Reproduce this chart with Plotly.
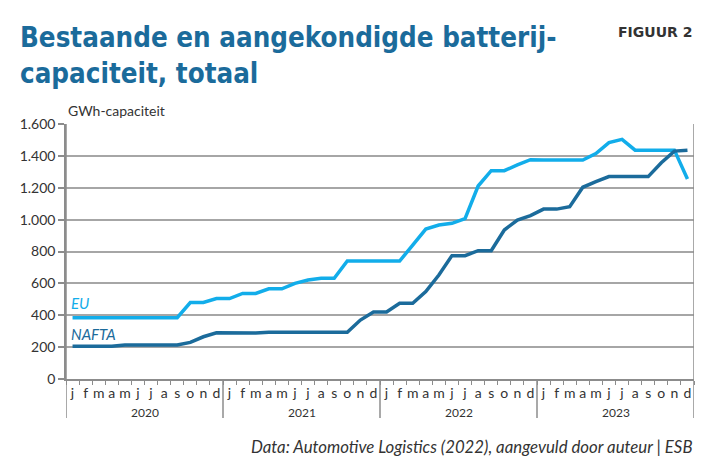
import plotly.graph_objects as go

# ---- data ----
months = ['j', 'f', 'm', 'a', 'm', 'j', 'j', 'a', 's', 'o', 'n', 'd']
years = ['2020', '2021', '2022', '2023']
yticks = [0, 200, 400, 600, 800, 1000, 1200, 1400, 1600]
ytick_text = ['0', '200', '400', '600', '800', '1.000', '1.200', '1.400', '1.600']

eu = [385, 385, 385, 385, 385, 385, 385, 385, 385, 480, 480, 505,
      505, 537, 537, 566, 566, 600, 621, 632, 632, 740, 740, 740,
      740, 740, 840, 941, 966, 977, 1006, 1211, 1307, 1307, 1343, 1376,
      1374, 1374, 1374, 1374, 1415, 1483, 1504, 1436, 1436, 1436, 1436, 1255]
nafta = [205, 205, 205, 205, 213, 213, 213, 213, 213, 230, 265, 290,
         288, 288, 288, 293, 293, 293, 293, 293, 293, 293, 370, 420,
         420, 475, 475, 548, 652, 774, 774, 805, 805, 935, 997, 1025,
         1066, 1066, 1081, 1203, 1238, 1270, 1270, 1270, 1270, 1357, 1430, 1436]

EU_COL = '#12adea'
NAFTA_COL = '#1b6b9b'
TEXT_COL = '#333333'
GRID_COL = '#a6a6a6'
AXIS_COL = '#8c8c8c'

n = len(eu)
xs = list(range(n))
ticktext = [months[i % 12] for i in xs]

OFF = 8  # page body margin
W, H = 712 - OFF, 464 - OFF
L, R, T, B = 64, 694, 124, 379  # plot area in reference pixels


def px(x):
    return (x - L) / (R - L)


def py(y):
    return (B - y) / (B - T)


fig = go.Figure()
fig.add_trace(go.Scatter(x=xs, y=eu, mode='lines', name='EU',
                         line=dict(color=EU_COL, width=3.5), hoverinfo='skip'))
fig.add_trace(go.Scatter(x=xs, y=nafta, mode='lines', name='NAFTA',
                         line=dict(color=NAFTA_COL, width=3.5), hoverinfo='skip'))

body = 'Lato, "Open Sans", sans-serif'

fig.update_layout(
    width=W, height=H,
    margin=dict(l=L - OFF, r=712 - R, t=T - OFF, b=464 - B, pad=0),
    paper_bgcolor='white', plot_bgcolor='white',
    showlegend=False,
    font=dict(family=body, color=TEXT_COL, size=13),
    xaxis=dict(
        range=[-0.5, n - 0.5], tickmode='array', tickvals=xs, ticktext=ticktext,
        ticks='', showgrid=False, zeroline=False,
        showline=True, linecolor=AXIS_COL, linewidth=1.5,
        tickfont=dict(size=14, color=TEXT_COL, family=body),
        minor=dict(tickmode='array', tickvals=[i - 0.5 for i in range(n + 1)],
                   ticks='outside', ticklen=4, tickwidth=1, tickcolor=AXIS_COL,
                   showgrid=False),
        fixedrange=True,
    ),
    yaxis=dict(
        range=[0, 1600], tickmode='array', tickvals=yticks, ticktext=ytick_text,
        showgrid=True, gridcolor=GRID_COL, gridwidth=1.5, zeroline=False,
        showline=True, linecolor=AXIS_COL, linewidth=1.5,
        ticks='outside', ticklen=6, tickwidth=1.5, tickcolor=AXIS_COL,
        tickfont=dict(size=14, color=TEXT_COL, family=body),
        fixedrange=True,
    ),
)

shapes = []
frame_col = '#555555'
shapes.append(dict(type='line', xref='paper', yref='paper', x0=px(5), x1=px(5), y0=py(470), y1=py(6),
                   line=dict(color=frame_col, width=1.5)))
shapes.append(dict(type='line', xref='paper', yref='paper', x0=px(5), x1=px(706), y0=py(6), y1=py(6),
                   line=dict(color=frame_col, width=1.5)))
shapes.append(dict(type='line', xref='paper', yref='paper', x0=px(706), x1=px(706), y0=py(6), y1=py(470),
                   line=dict(color=frame_col, width=1.5)))
shapes.append(dict(type='line', xref='x', yref='paper', x0=n - 0.5, x1=n - 0.5, y0=py(418), y1=1,
                   line=dict(color=AXIS_COL, width=1.5)))
shapes.append(dict(type='line', xref='x', yref='paper', x0=-0.5, x1=-0.5, y0=py(418), y1=1,
                   line=dict(color=AXIS_COL, width=1.5)))
for k in range(1, len(years)):
    xb = k * 12 - 0.5
    shapes.append(dict(type='line', xref='x', yref='paper', x0=xb, x1=xb, y0=py(418), y1=0,
                       line=dict(color=AXIS_COL, width=1.5)))
fig.update_layout(shapes=shapes)

ann = []
for k, yr in enumerate(years):
    ann.append(dict(x=k * 12 + 5.5, y=py(412), xref='x', yref='paper', text=yr, showarrow=False,
                    font=dict(size=12, color=TEXT_COL, family=body), xanchor='center', yanchor='middle'))

title_font = dict(family='"DejaVu Sans Condensed", "DejaVu Sans", sans-serif', size=27.5, color=NAFTA_COL)
ann.append(dict(x=px(16), y=py(37), xref='paper', yref='paper', xanchor='left', yanchor='middle',
                text='<b>Bestaande en aangekondigde batterij-</b>', showarrow=False, font=title_font))
ann.append(dict(x=px(16), y=py(73), xref='paper', yref='paper', xanchor='left', yanchor='middle',
                text='<b>capaciteit, totaal</b>', showarrow=False, font=title_font))
ann.append(dict(x=px(694), y=py(32), xref='paper', yref='paper', xanchor='right', yanchor='middle',
                text='<b>FIGUUR 2</b>', showarrow=False,
                font=dict(family='"DejaVu Sans", sans-serif', size=14, color='#333333')))
ann.append(dict(x=px(64), y=py(110), xref='paper', yref='paper', xanchor='left', yanchor='middle',
                text='GWh-capaciteit', showarrow=False, font=dict(family=body, size=14, color=TEXT_COL)))
ann.append(dict(x=px(67), y=py(303), xref='paper', yref='paper', xanchor='left', yanchor='middle',
                text='<i>EU</i>', showarrow=False, font=dict(family=body, size=15, color=EU_COL)))
ann.append(dict(x=px(67), y=py(334), xref='paper', yref='paper', xanchor='left', yanchor='middle',
                text='<i>NAFTA</i>', showarrow=False, font=dict(family=body, size=15, color=NAFTA_COL)))
ann.append(dict(x=px(694), y=py(446), xref='paper', yref='paper', xanchor='right', yanchor='middle',
                text='<i>Data: Automotive Logistics (2022), aangevuld door auteur | ESB</i>', showarrow=False,
                font=dict(family=body, size=16.8, color=TEXT_COL)))
fig.update_layout(annotations=ann)

fig.write_html('out.html')
